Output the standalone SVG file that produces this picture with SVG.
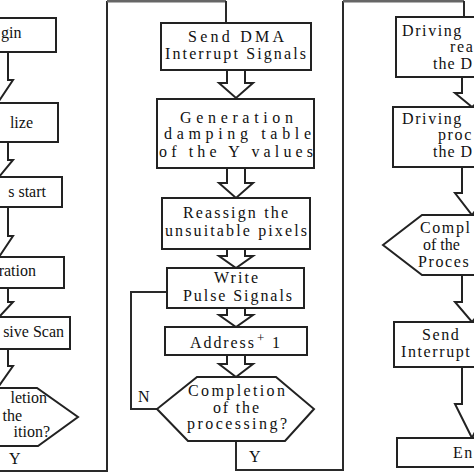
<svg xmlns="http://www.w3.org/2000/svg" width="474" height="474" viewBox="0 0 474 474">
<style>
.box{fill:#fff;stroke:#222;stroke-width:2}
.arr{fill:#fff;stroke:#222;stroke-width:2;stroke-linejoin:miter}
.ln{fill:none;stroke:#2a2a2a;stroke-width:2}
.top{fill:none;stroke:#666;stroke-width:3}
text{font-family:"Liberation Serif","Times New Roman",serif;font-size:16px;fill:#111}
.e{text-anchor:end}
.s3{letter-spacing:1.6px}
</style>
<rect width="474" height="474" fill="#fff"/>
<g id="connectors">
<polyline class="ln" points="0,471 107,471 107,1"/>
<polyline class="top" points="107,1 226,1"/>
<polyline class="ln" points="226,1 226,23"/>
<polyline class="ln" points="236,441 236,470 343,470 343,1"/>
<polyline class="top" points="343,1 464,1"/>
<polyline class="ln" points="464,1 464,17"/>
<polyline class="ln" points="157,409 131,409 131,292 167,292"/>
<polygon class="arr" points="-10,52 8,52 8,80 13,80 -1,101 -15,80 -10,80"/>
<polygon class="arr" points="-10,142 8,142 8,160 13,160 -1,177 -15,160 -10,160"/>
<polygon class="arr" points="-10,207 8,207 8,236 13,236 -1,257 -15,236 -10,236"/>
<polygon class="arr" points="-10,288 8,288 8,302 13,302 -1,317 -15,302 -10,302"/>
<polygon class="arr" points="-10,349 8,349 8,366 13,366 -1,386 -15,366 -10,366"/>
<polygon class="arr" points="227,70 245,70 245,83 253,83 236,98 219,83 227,83"/>
<polygon class="arr" points="227,168 245,168 245,183 253,183 236,198 219,183 227,183"/>
<polygon class="arr" points="227,249 245,249 245,256 253,256 236,268 219,256 227,256"/>
<polygon class="arr" points="227,308 245,308 245,315 253,315 236,327 219,315 227,315"/>
<polygon class="arr" points="227,355 245,355 245,364 253,364 236,377 219,364 227,364"/>
<polygon class="arr" points="462,77 482,77 482,93 489,93 472,107 455,93 462,93"/>
<polygon class="arr" points="462,167 482,167 482,193 489,193 472,215 455,193 462,193"/>
<polygon class="arr" points="462,275 482,275 482,302 489,302 472,322 455,302 462,302"/>
<polygon class="arr" points="462,367 482,367 482,404 489,404 472,438 455,404 462,404"/>
<text x="9" y="464">Y</text>
<text x="138" y="402">N</text>
<text x="249" y="462">Y</text>
</g>
<g id="begin"><rect class="box" x="-60" y="18" width="116" height="34"/><text x="1" y="38">gin</text></g>
<g id="initialize"><rect class="box" x="-60" y="103" width="118" height="39"/><text class="e" x="33" y="128">lize</text></g>
<g id="start"><rect class="box" x="-60" y="177" width="122" height="30"/><text class="e" x="46" y="197">s start</text></g>
<g id="ration"><rect class="box" x="-60" y="257" width="124" height="31"/><text class="e" x="36" y="276">ration</text></g>
<g id="scan"><rect class="box" x="-60" y="317" width="130" height="32"/><text class="e" x="64" y="337">sive Scan</text></g>
<g id="decision1"><polygon class="box" points="-80,388 37,388 78,417 38,446 -80,446"/>
<text class="e" x="47" y="403">letion</text><text class="e" x="22" y="421">the</text><text class="e" x="50" y="437">ition?</text></g>
<g id="send-dma"><rect class="box" x="161" y="23" width="150" height="47"/>
<text x="188" y="42" textLength="96" lengthAdjust="spacing">Send DMA</text>
<text x="165" y="59" textLength="141" lengthAdjust="spacing">Interrupt Signals</text></g>
<g id="generation"><rect class="box" x="157" y="99" width="157" height="69"/>
<text x="180" y="123" textLength="113" lengthAdjust="spacing">Generation</text>
<text x="164" y="139" textLength="147" lengthAdjust="spacing">damping table</text>
<text x="159" y="157" textLength="154" lengthAdjust="spacing">of the Y values</text></g>
<g id="reassign"><rect class="box" x="162" y="198" width="148" height="51"/>
<text x="183" y="218" textLength="105" lengthAdjust="spacing">Reassign the</text>
<text x="165" y="236" textLength="142" lengthAdjust="spacing">unsuitable pixels</text></g>
<g id="write"><rect class="box" x="167" y="268" width="137" height="40"/>
<text x="214" y="283" textLength="44" lengthAdjust="spacing">Write</text>
<text x="183" y="301" textLength="109" lengthAdjust="spacing">Pulse Signals</text></g>
<g id="address"><rect class="box" x="165" y="327" width="142" height="28"/>
<text x="190" y="348" textLength="64" lengthAdjust="spacing">Address</text>
<text x="257" y="342" style="font-size:13px">+</text>
<text x="272" y="348">1</text></g>
<g id="decision2"><polygon class="box" points="197,377 276,377 314,409 285,441 188,441 157,409"/>
<text x="188" y="396" textLength="97" lengthAdjust="spacing">Completion</text>
<text x="213" y="413" textLength="46" lengthAdjust="spacing">of the</text>
<text x="187" y="429" textLength="100" lengthAdjust="spacing">processing?</text></g>
<g id="drive-read"><rect class="box" x="396" y="17" width="160" height="60"/>
<text class="s3" x="402" y="36">Driving</text><text class="s3" x="450" y="52">rea</text><text x="433" y="69" textLength="39" lengthAdjust="spacing">the D</text></g>
<g id="drive-proc"><rect class="box" x="393" y="107" width="160" height="60"/>
<text class="s3" x="402" y="124">Driving</text><text class="s3" x="438" y="140">proc</text><text x="433" y="157" textLength="39" lengthAdjust="spacing">the D</text></g>
<g id="decision3"><polygon class="box" points="383,245 422,215 560,215 560,275 422,275"/>
<text class="s3" x="420" y="233">Compl</text><text x="423" y="250">of the</text><text class="s3" x="418" y="267">Proces</text></g>
<g id="send-int"><rect class="box" x="394" y="322" width="160" height="45"/>
<text class="s3" x="422" y="340">Send</text><text class="s3" x="401" y="357">Interrupt</text></g>
<g id="end"><rect class="box" x="397" y="438" width="160" height="29"/>
<text class="s3" x="453" y="458">En</text></g>
</svg>
